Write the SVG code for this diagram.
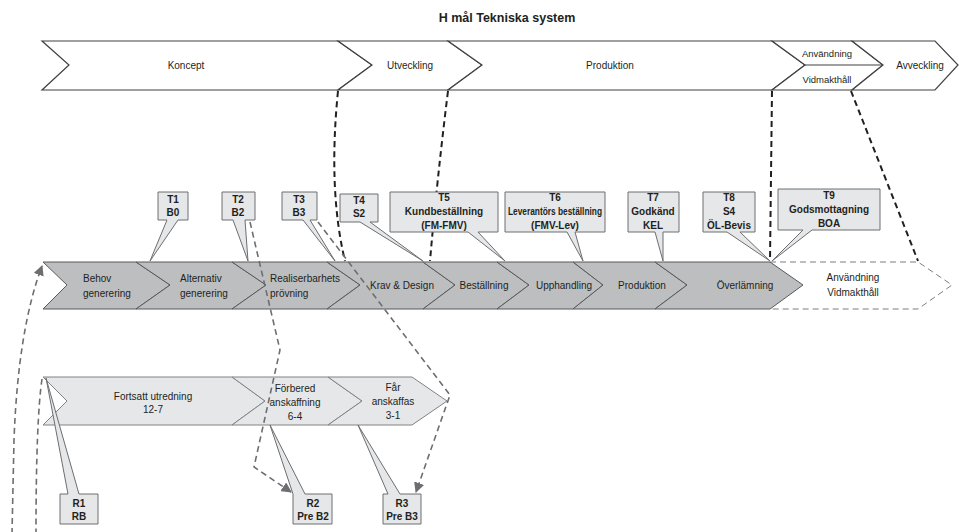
<svg xmlns="http://www.w3.org/2000/svg" width="959" height="532" viewBox="0 0 959 532">
<defs>
<style>
text{font-family:"Liberation Sans",Arial,sans-serif;font-size:10px;fill:#231f20;text-anchor:middle}
.b{font-weight:bold}
.l{text-anchor:start}
.top{fill:#fff;stroke:#414042;stroke-width:1.2}
.mid{fill:#bcbec0;stroke:#58595b;stroke-width:1}
.bot{fill:#e6e7e8;stroke:#808285;stroke-width:1}
.call{fill:#e6e7e8;stroke:#6d6e71;stroke-width:1}
.dk{fill:none;stroke:#231f20;stroke-width:2;stroke-dasharray:6 4}
.gr{fill:none;stroke:#6d6e71;stroke-width:1.6;stroke-dasharray:6 4}
.th{fill:none;stroke:#6d6e71;stroke-width:0.9;stroke-dasharray:6 4}
</style>
<marker id="ah" viewBox="0 0 10 10" refX="9" refY="5" markerWidth="6.5" markerHeight="6.5" orient="auto" markerUnits="strokeWidth">
<path d="M0,0 L10,5 L0,10 Z" fill="#6d6e71"/>
</marker>
</defs>
<rect width="959" height="532" fill="#fff"/>
<text class="b" x="507" y="22" style="font-size:12.5px">H mål Tekniska system</text>

<!-- top row -->
<g id="koncept"><polygon class="top" points="42,41 338,41 372,65 338,90 42,90 69,65"/><text x="186" y="69">Koncept</text></g>
<g id="utveckling"><polygon class="top" points="338,41 448,41 482,65 448,90 338,90 372,65"/><text x="410" y="69">Utveckling</text></g>
<g id="produktion-top"><polygon class="top" points="448,41 772,41 805,65 772,90 448,90 482,65"/><text x="610" y="69">Produktion</text></g>
<g id="anvandning-top"><polygon class="top" points="772,41 852,41 883,65 852,90 772,90 805,65"/><line x1="805" y1="65" x2="883" y2="65" stroke="#414042" stroke-width="1.2"/><text x="827" y="57" style="font-size:9.5px">Användning</text><text x="827" y="83" style="font-size:9.5px">Vidmakthåll</text></g>
<g id="avveckling"><polygon class="top" points="852,41 935,41 958,65 935,90 852,90 883,65"/><text x="920" y="69">Avveckling</text></g>

<!-- middle row continuation -->
<g id="anvandning-mid"><path class="th" d="M770,262 L918,262 L952,285 L918,309 L770,309"/><text x="853" y="281">Användning</text><text x="853" y="296">Vidmakthåll</text></g>

<!-- middle row -->
<g id="behov"><polygon class="mid" points="43,262 136,262 170,285 136,309 43,309 67,285"/><text class="l" x="83" y="282">Behov</text><text class="l" x="83" y="297">generering</text></g>
<g id="alternativ"><polygon class="mid" points="136,262 232,262 266,285 232,309 136,309 170,285"/><text class="l" x="180" y="282">Alternativ</text><text class="l" x="180" y="297">generering</text></g>
<g id="realiserbarhet"><polygon class="mid" points="232,262 327,262 360,285 327,309 232,309 266,285"/><text class="l" x="270" y="282">Realiserbarhets</text><text class="l" x="270" y="297">prövning</text></g>
<g id="krav"><polygon class="mid" points="327,262 423,262 455,285 423,309 327,309 360,285"/><text x="402" y="289">Krav &amp; Design</text></g>
<g id="bestallning"><polygon class="mid" points="423,262 497,262 529,285 497,309 423,309 455,285"/><text x="484" y="289">Beställning</text></g>
<g id="upphandling"><polygon class="mid" points="497,262 573,262 603,285 573,309 497,309 529,285"/><text x="564" y="289">Upphandling</text></g>
<g id="produktion-mid"><polygon class="mid" points="573,262 655,262 687,285 655,309 573,309 603,285"/><text x="642" y="289">Produktion</text></g>
<g id="overlamning"><polygon class="mid" points="655,262 770,262 803,285 770,309 655,309 687,285"/><text x="745" y="289">Överlämning</text></g>

<!-- bottom row -->
<g id="fortsatt"><polygon class="bot" points="43,377 232,377 265,401 232,425 43,425 67,401"/><text x="153" y="400">Fortsatt utredning</text><text x="153" y="413">12-7</text></g>
<g id="forbered"><polygon class="bot" points="232,377 328,377 362,401 328,425 232,425 265,401"/><text x="295" y="392">Förbered</text><text x="295" y="406">anskaffning</text><text x="295" y="420">6-4</text></g>
<g id="far"><polygon class="bot" points="328,377 412,377 447,401 412,425 328,425 362,401"/><text x="393" y="391">Får</text><text x="393" y="405">anskaffas</text><text x="393" y="419">3-1</text></g>

<!-- connectors -->
<g id="connectors">
<path class="dk" d="M338,91 Q328,190 345,261"/>
<path class="dk" d="M448,91 Q437,180 430,261"/>
<path class="dk" d="M772,91 L770,261"/>
<path class="dk" d="M851,91 L918,261"/>
<path class="gr" d="M250,222 L280,350 L254,467 L291,492" marker-end="url(#ah)"/>
<path class="gr" d="M318,222 L450,395 L416,492" marker-end="url(#ah)"/>
<path class="gr" d="M12,534 L14,440 Q18,330 42,266" marker-end="url(#ah)"/>
<path class="gr" d="M42,379 Q36,420 36,534"/>
</g>

<!-- callouts T -->
<g id="T1"><polygon class="call" points="158,192 188,192 188,220 178,220 150,261 167,220 158,220"/><text class="b" x="173" y="203">T1</text><text class="b" x="173" y="216">B0</text></g>
<g id="T2"><polygon class="call" points="222,192 255,192 255,220 245,220 248,261 233,220 222,220"/><text class="b" x="238" y="203">T2</text><text class="b" x="238" y="216">B2</text></g>
<g id="T3"><polygon class="call" points="282,192 317,192 317,220 310,220 335,261 303,220 282,220"/><text class="b" x="299" y="203">T3</text><text class="b" x="299" y="216">B3</text></g>
<g id="T4"><polygon class="call" points="340,194 378,194 378,222 370,222 423,261 360,222 340,222"/><text class="b" x="359" y="204">T4</text><text class="b" x="359" y="217">S2</text></g>
<g id="T5"><polygon class="call" points="390,192 498,192 498,232 478,232 505,261 468,232 390,232"/><text class="b" x="444" y="201">T5</text><text class="b" x="444" y="215">Kundbeställning</text><text class="b" x="444" y="229">(FM-FMV)</text></g>
<g id="T6"><polygon class="call" points="505,192 605,192 605,232 575,232 583,261 567,232 505,232"/><text class="b" x="555" y="201">T6</text><text class="b" x="555" y="215" textLength="94" lengthAdjust="spacingAndGlyphs">Leverantörs beställning</text><text class="b" x="555" y="229">(FMV-Lev)</text></g>
<g id="T7"><polygon class="call" points="628,192 679,192 679,232 663,232 663,261 655,232 628,232"/><text class="b" x="653" y="201">T7</text><text class="b" x="653" y="215">Godkänd</text><text class="b" x="653" y="229">KEL</text></g>
<g id="T8"><polygon class="call" points="703,192 755,192 755,232 740,232 770,261 727,232 703,232"/><text class="b" x="729" y="201">T8</text><text class="b" x="729" y="215">S4</text><text class="b" x="729" y="229">ÖL-Bevis</text></g>
<g id="T9"><polygon class="call" points="778,189 880,189 880,230 812,230 772,261 803,230 778,230"/><text class="b" x="829" y="199">T9</text><text class="b" x="829" y="213">Godsmottagning</text><text class="b" x="829" y="227">BOA</text></g>

<!-- callouts R -->
<g id="R1"><polygon class="call" points="60,494 68,494 46,378 79,494 98,494 98,524 60,524"/><text class="b" x="79" y="507">R1</text><text class="b" x="79" y="520">RB</text></g>
<g id="R2"><polygon class="call" points="293,494 270,425 305,494 332,494 332,524 293,524"/><text class="b" x="313" y="507">R2</text><text class="b" x="313" y="520">Pre B2</text></g>
<g id="R3"><polygon class="call" points="383,494 388,494 358,425 400,494 421,494 421,524 383,524"/><text class="b" x="402" y="507">R3</text><text class="b" x="402" y="520">Pre B3</text></g>
</svg>
